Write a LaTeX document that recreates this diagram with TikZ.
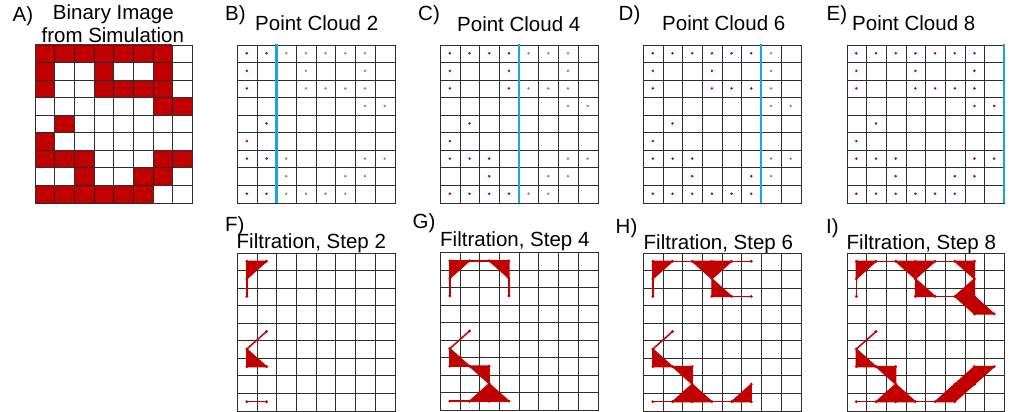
\documentclass[tikz,border=0pt]{standalone}
\usepackage{fontspec}
\setmainfont{Liberation Sans}
\definecolor{dred}{RGB}{192,0,0}
\definecolor{cblue}{RGB}{26,165,222}
\definecolor{gridc}{RGB}{45,45,45}
\definecolor{gdot}{RGB}{140,140,140}
\newcommand\allpts{0/0,1/0,2/0,3/0,4/0,5/0,6/0,0/1,3/1,6/1,0/2,3/2,4/2,5/2,6/2,6/3,7/3,1/4,0/5,0/6,1/6,2/6,6/6,7/6,2/7,5/7,6/7,0/8,1/8,2/8,3/8,4/8,5/8}
\tikzset{
  gridline/.style={draw=gridc, line width=1.4pt, line cap=rect},
  lab/.style={anchor=base west, inner sep=0pt, font=\fontsize{20.5}{24}\selectfont},
  ttl/.style={anchor=base, inner sep=0pt, font=\fontsize{20.5}{24}\selectfont},
  cutline/.style={draw=cblue, line width=2.4pt},
  cplx/.style={draw=dred, fill=dred, line width=1.3pt, line join=round},
  edg/.style={draw=dred, line width=1.5pt},
  panel/.style={x=19.6875pt, y=-17.556pt},
}
% grid in global pixel units, snapped to pixel centres
\newcommand\drawgrid[2]{%
  \pgfmathsetmacro\gxa{round(#1)+0.5}%
  \pgfmathsetmacro\gxb{round(#1+157.5)+0.5}%
  \pgfmathsetmacro\gya{round(#2)+0.5}%
  \pgfmathsetmacro\gyb{round(#2+158)+0.5}%
  \foreach \i in {0,...,8} {%
    \pgfmathsetmacro\xx{round(#1+\i*19.6875)+0.5}%
    \draw[gridline] (\xx,\gya) -- (\xx,\gyb);}
  \foreach \j in {0,...,9} {%
    \pgfmathsetmacro\yy{round(#2+\j*17.556)+0.5}%
    \draw[gridline] (\gxa,\yy) -- (\gxb,\yy);}}
\newcommand\cloud[3]{%
  \drawgrid{#1}{#2}
  \begin{scope}[shift={(#1,#2)}, panel]
  \foreach \c/\r in \allpts {%
    \ifnum\c<#3\relax \fill[dred] (\c+0.5,\r+0.5) circle (1.4pt);
    \else \fill[gdot] (\c+0.5,\r+0.5) circle (1.4pt); \fi}
  \draw[cutline] (#3,0) -- (#3,9);
  \end{scope}}
\newcommand\ftri[3]{\filldraw[cplx] #1 -- #2 -- #3 -- cycle;}
\newcommand\fedge[2]{\draw[edg] #1 -- #2;}
\newcommand\fverts[1]{%
  \foreach \c/\r in \allpts {%
    \ifnum\c<#1\relax \fill[dred] (\c,\r) circle (1.6pt); \fi}}
\begin{document}
\begin{tikzpicture}[x=1pt, y=-1pt]
\useasboundingbox (0,0) rectangle (1026,412);
% ---------- labels ----------
\node[lab] (la) at (12.5,21.5) {A)};
\node[ttl] (ta1) at (113.3,19.5) {Binary Image};
\node[ttl] (ta2) at (112.8,43) {from Simulation};
\node[lab] (lb) at (225,21) {B)};
\node[lab] (tb) at (255,31) {Point Cloud 2};
\node[lab] (lc) at (418,20.5) {C)};
\node[lab] (tc) at (457,31.5) {Point Cloud 4};
\node[lab] (ld) at (618.5,21) {D)};
\node[lab] (td) at (662,31) {Point Cloud 6};
\node[lab] (le) at (826.5,20.5) {E)};
\node[lab] (te) at (852,30.5) {Point Cloud 8};
\node[lab] (lf) at (225,231.5) {F)};
\node[lab] (tf) at (236.5,248) {Filtration, Step 2};
\node[lab] (lg) at (412.5,228.5) {G)};
\node[lab] (tg) at (440,246.5) {Filtration, Step 4};
\node[lab] (lh) at (615.5,233) {H)};
\node[lab] (th) at (643.5,249) {Filtration, Step 6};
\node[lab] (li) at (826,233) {I)};
\node[lab] (ti) at (846.5,249.3) {Filtration, Step 8};
% ---------- A ----------
\begin{scope}[shift={(34.5,44.5)}, panel]
  \foreach \c/\r in \allpts \fill[dred] (\c,\r) rectangle ++(1,1);
\end{scope}
\drawgrid{34.5}{44.5}
% ---------- point clouds ----------
\cloud{237}{44.5}{2}
\cloud{440}{44.5}{4}
\cloud{643}{44.5}{6}
\cloud{846.5}{44.5}{8}
% ---------- F ----------
\drawgrid{237}{252.5}
\begin{scope}[shift={(237,252.5)}, panel]
  \begin{scope}[shift={(0.5,0.5)}]
    \ftri{(0,0)}{(1,0)}{(0,1)}
    \fedge{(0,1)}{(0,2)}
    \fedge{(1,4)}{(0,5)}
    \ftri{(0,5)}{(0,6)}{(1,6)}
    \fedge{(0,8)}{(1,8)}
    \fverts{2}
  \end{scope}
\end{scope}
% ---------- G ----------
\drawgrid{440}{252}
\begin{scope}[shift={(440,252)}, panel]
  \begin{scope}[shift={(0.5,0.5)}]
    \ftri{(0,0)}{(1,0)}{(0,1)}
    \fedge{(1,0)}{(2,0)}
    \ftri{(2,0)}{(3,0)}{(3,1)}
    \fedge{(0,1)}{(0,2)}
    \fedge{(3,1)}{(3,2)}
    \fedge{(1,4)}{(0,5)}
    \ftri{(0,5)}{(0,6)}{(1,6)}
    \ftri{(1,6)}{(2,6)}{(2,7)}
    \ftri{(2,7)}{(1,8)}{(2,8)}
    \ftri{(2,7)}{(2,8)}{(3,8)}
    \fedge{(0,8)}{(1,8)}
    \fverts{4}
  \end{scope}
\end{scope}
% ---------- H ----------
\drawgrid{643}{252.5}
\begin{scope}[shift={(643,252.5)}, panel]
  \begin{scope}[shift={(0.5,0.5)}]
    \ftri{(0,0)}{(1,0)}{(0,1)}
    \fedge{(1,0)}{(2,0)}
    \ftri{(2,0)}{(3,0)}{(3,1)}
    \ftri{(3,0)}{(4,0)}{(3,1)}
    \fedge{(4,0)}{(5,0)}
    \fedge{(0,1)}{(0,2)}
    \ftri{(3,1)}{(3,2)}{(4,2)}
    \fedge{(4,2)}{(5,2)}
    \fedge{(1,4)}{(0,5)}
    \ftri{(0,5)}{(0,6)}{(1,6)}
    \ftri{(1,6)}{(2,6)}{(2,7)}
    \ftri{(2,7)}{(1,8)}{(2,8)}
    \ftri{(2,7)}{(2,8)}{(3,8)}
    \fedge{(0,8)}{(1,8)}
    \fedge{(3,8)}{(4,8)}
    \ftri{(5,7)}{(4,8)}{(5,8)}
    \fverts{6}
  \end{scope}
\end{scope}
% ---------- I ----------
\drawgrid{846.5}{252.5}
\begin{scope}[shift={(846.5,252.5)}, panel]
  \begin{scope}[shift={(0.5,0.5)}]
    \ftri{(0,0)}{(1,0)}{(0,1)}
    \fedge{(1,0)}{(2,0)}
    \ftri{(2,0)}{(3,0)}{(3,1)}
    \ftri{(3,0)}{(4,0)}{(3,1)}
    \fedge{(4,0)}{(5,0)}
    \ftri{(5,0)}{(6,0)}{(6,1)}
    \fedge{(0,1)}{(0,2)}
    \ftri{(3,1)}{(3,2)}{(4,2)}
    \fedge{(4,2)}{(5,2)}
    \ftri{(6,1)}{(5,2)}{(6,2)}
    \ftri{(5,2)}{(6,2)}{(6,3)}
    \ftri{(6,2)}{(6,3)}{(7,3)}
    \fedge{(1,4)}{(0,5)}
    \ftri{(0,5)}{(0,6)}{(1,6)}
    \ftri{(1,6)}{(2,6)}{(2,7)}
    \ftri{(2,7)}{(1,8)}{(2,8)}
    \ftri{(2,7)}{(2,8)}{(3,8)}
    \fedge{(0,8)}{(1,8)}
    \fedge{(3,8)}{(4,8)}
    \ftri{(5,7)}{(4,8)}{(5,8)}
    \ftri{(5,7)}{(6,7)}{(5,8)}
    \ftri{(6,6)}{(5,7)}{(6,7)}
    \ftri{(6,6)}{(7,6)}{(6,7)}
    \fverts{8}
  \end{scope}
\end{scope}
\end{tikzpicture}
\end{document}
